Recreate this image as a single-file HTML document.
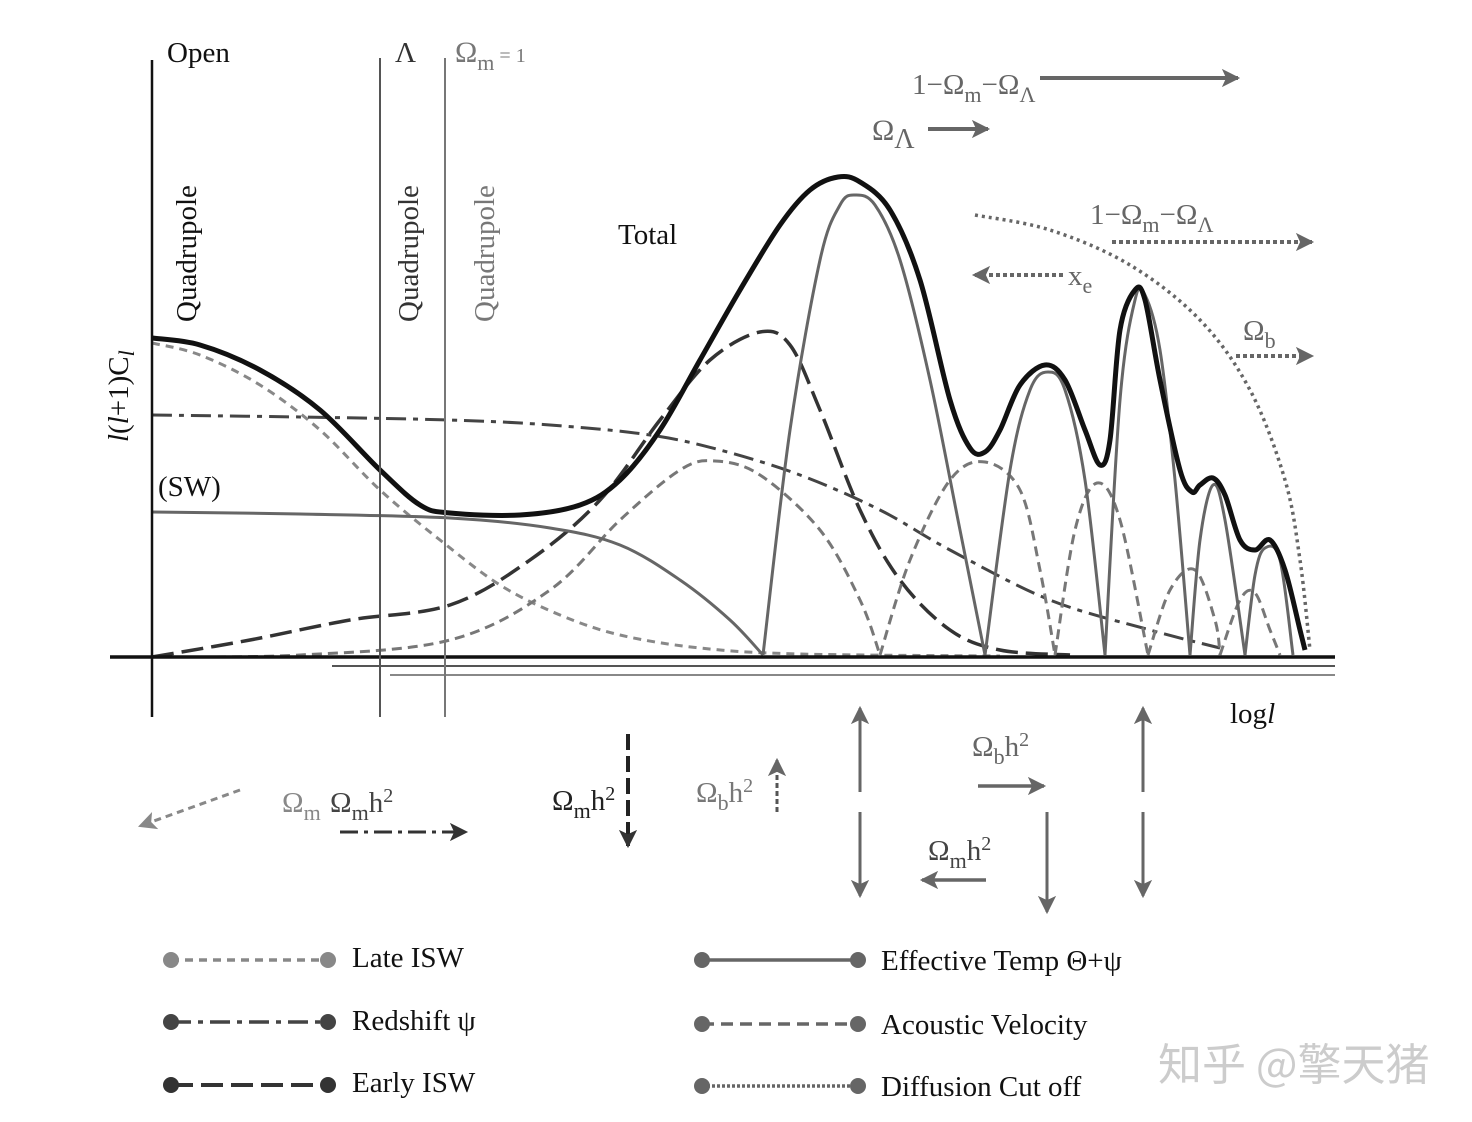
<!DOCTYPE html>
<html><head><meta charset="utf-8"><style>
body{margin:0;background:#fff}
svg{display:block;font-family:"Liberation Serif","Noto Serif CJK SC",serif}
</style></head><body>
<svg id="chart" width="1472" height="1122" viewBox="0 0 1472 1122" xmlns="http://www.w3.org/2000/svg">
<defs>
<marker id="ag" viewBox="0 0 10 10" refX="9" refY="5" markerWidth="7" markerHeight="7" markerUnits="userSpaceOnUse" orient="auto" style="overflow:visible"><path d="M-14,-8 L12,5 L-14,18 L-8,5 z" fill="#666"/></marker>
<marker id="ad" viewBox="0 0 10 10" refX="9" refY="5" markerWidth="7" markerHeight="7" markerUnits="userSpaceOnUse" orient="auto" style="overflow:visible"><path d="M-14,-8 L12,5 L-14,18 L-8,5 z" fill="#333"/></marker>
<marker id="al" viewBox="0 0 10 10" refX="9" refY="5" markerWidth="7" markerHeight="7" markerUnits="userSpaceOnUse" orient="auto" style="overflow:visible"><path d="M-14,-8 L12,5 L-14,18 L-8,5 z" fill="#888"/></marker>
</defs>
<g id="curves"></g>
<g>
<line x1="110" y1="657" x2="1335" y2="657" stroke="#111" stroke-width="3.5"/>
<line x1="332" y1="666" x2="1335" y2="666" stroke="#555" stroke-width="2"/>
<line x1="390" y1="675" x2="1335" y2="675" stroke="#888" stroke-width="2"/>
<line x1="152" y1="60" x2="152" y2="717" stroke="#111" stroke-width="2.5"/>
<line x1="380" y1="58" x2="380" y2="717" stroke="#555" stroke-width="2"/>
<line x1="445" y1="58" x2="445" y2="717" stroke="#777" stroke-width="2"/>
</g>
<g font-size="29">
<text x="167" y="62" fill="#111">Open</text>
<text x="395" y="62" fill="#333">Λ</text>
<text x="455" y="62" fill="#777" font-size="30">Ω<tspan font-size="22" dy="8">m</tspan><tspan font-size="20" dy="-8"> = 1</tspan></text>
<text transform="translate(196,322) rotate(-90)" fill="#111">Quadrupole</text>
<text transform="translate(418,322) rotate(-90)" fill="#333">Quadrupole</text>
<text transform="translate(494,322) rotate(-90)" fill="#777">Quadrupole</text>
<text transform="translate(128,442) rotate(-90)" fill="#111"><tspan font-style="italic">l</tspan>(<tspan font-style="italic">l</tspan>+1)C<tspan font-style="italic" font-size="22" dy="6">l</tspan></text>
<text x="158" y="496" fill="#111">(SW)</text>
<text x="618" y="244" fill="#111">Total</text>
<text x="1230" y="723" fill="#111">log<tspan font-style="italic">l</tspan></text>
<text x="912" y="94" fill="#666">1−Ω<tspan font-size="22" dy="8">m</tspan><tspan dy="-8">−Ω</tspan><tspan font-size="22" dy="8">Λ</tspan></text>
<text x="872" y="140" fill="#666" font-size="30">Ω<tspan font-size="28" dy="8">Λ</tspan></text>
<text x="1090" y="224" fill="#666">1−Ω<tspan font-size="22" dy="8">m</tspan><tspan dy="-8">−Ω</tspan><tspan font-size="22" dy="8">Λ</tspan></text>
<text x="1068" y="285" fill="#666">x<tspan font-size="22" dy="8">e</tspan></text>
<text x="1243" y="340" fill="#666">Ω<tspan font-size="22" dy="8">b</tspan></text>
<text x="282" y="812" fill="#888">Ω<tspan font-size="22" dy="8">m</tspan></text>
<text x="330" y="812" fill="#444">Ω<tspan font-size="22" dy="8">m</tspan><tspan dy="-8">h</tspan><tspan font-size="20" dy="-10">2</tspan></text>
<text x="552" y="810" fill="#222">Ω<tspan font-size="22" dy="8">m</tspan><tspan dy="-8">h</tspan><tspan font-size="20" dy="-10">2</tspan></text>
<text x="696" y="802" fill="#777">Ω<tspan font-size="22" dy="8">b</tspan><tspan dy="-8">h</tspan><tspan font-size="20" dy="-10">2</tspan></text>
<text x="972" y="756" fill="#666">Ω<tspan font-size="22" dy="8">b</tspan><tspan dy="-8">h</tspan><tspan font-size="20" dy="-10">2</tspan></text>
<text x="928" y="860" fill="#444">Ω<tspan font-size="22" dy="8">m</tspan><tspan dy="-8">h</tspan><tspan font-size="20" dy="-10">2</tspan></text>
</g>
<g fill="none">
<line x1="1040" y1="78" x2="1238" y2="78" stroke="#666" stroke-width="4" marker-end="url(#ag)"/>
<line x1="928" y1="129" x2="988" y2="129" stroke="#666" stroke-width="4" marker-end="url(#ag)"/>
<line x1="1112" y1="242" x2="1312" y2="242" stroke="#666" stroke-width="4" stroke-dasharray="4 3" marker-end="url(#ag)"/>
<line x1="1063" y1="275" x2="974" y2="275" stroke="#666" stroke-width="4" stroke-dasharray="4 3" marker-end="url(#ag)"/>
<line x1="1236" y1="356" x2="1312" y2="356" stroke="#666" stroke-width="4" stroke-dasharray="4 3" marker-end="url(#ag)"/>
<line x1="240" y1="790" x2="140" y2="826" stroke="#888" stroke-width="3" stroke-dasharray="7 5" marker-end="url(#al)"/>
<line x1="340" y1="832" x2="466" y2="832" stroke="#333" stroke-width="3" stroke-dasharray="18 6 4 6" marker-end="url(#ad)"/>
<line x1="628" y1="734" x2="628" y2="846" stroke="#222" stroke-width="4" stroke-dasharray="16 6" marker-end="url(#ad)"/>
<line x1="777" y1="812" x2="777" y2="760" stroke="#555" stroke-width="3" stroke-dasharray="5 3" marker-end="url(#ag)"/>
<line x1="860" y1="792" x2="860" y2="708" stroke="#666" stroke-width="3" marker-end="url(#ag)"/>
<line x1="860" y1="812" x2="860" y2="896" stroke="#666" stroke-width="3" marker-end="url(#ag)"/>
<line x1="978" y1="786" x2="1044" y2="786" stroke="#666" stroke-width="3.5" marker-end="url(#ag)"/>
<line x1="986" y1="880" x2="922" y2="880" stroke="#666" stroke-width="3.5" marker-end="url(#ag)"/>
<line x1="1047" y1="812" x2="1047" y2="912" stroke="#666" stroke-width="3" marker-end="url(#ag)"/>
<line x1="1143" y1="792" x2="1143" y2="708" stroke="#666" stroke-width="3" marker-end="url(#ag)"/>
<line x1="1143" y1="812" x2="1143" y2="896" stroke="#666" stroke-width="3" marker-end="url(#ag)"/>
</g>
<g font-size="29" fill="#111">
<g><line x1="171" y1="960" x2="328" y2="960" stroke="#888" stroke-width="3.5" stroke-dasharray="8 6"/><circle cx="171" cy="960" r="8" fill="#888"/><circle cx="328" cy="960" r="8" fill="#888"/><text x="352" y="967">Late ISW</text></g>
<g><line x1="171" y1="1022" x2="328" y2="1022" stroke="#444" stroke-width="3.5" stroke-dasharray="20 7 5 7"/><circle cx="171" cy="1022" r="8" fill="#444"/><circle cx="328" cy="1022" r="8" fill="#444"/><text x="352" y="1030">Redshift ψ</text></g>
<g><line x1="171" y1="1085" x2="328" y2="1085" stroke="#333" stroke-width="4" stroke-dasharray="22 8"/><circle cx="171" cy="1085" r="8" fill="#333"/><circle cx="328" cy="1085" r="8" fill="#333"/><text x="352" y="1092">Early ISW</text></g>
<g><line x1="702" y1="960" x2="858" y2="960" stroke="#666" stroke-width="3.5"/><circle cx="702" cy="960" r="8" fill="#666"/><circle cx="858" cy="960" r="8" fill="#666"/><text x="881" y="970">Effective Temp Θ+ψ</text></g>
<g><line x1="702" y1="1024" x2="858" y2="1024" stroke="#666" stroke-width="3.5" stroke-dasharray="12 7"/><circle cx="702" cy="1024" r="8" fill="#666"/><circle cx="858" cy="1024" r="8" fill="#666"/><text x="881" y="1034">Acoustic Velocity</text></g>
<g><line x1="702" y1="1086" x2="858" y2="1086" stroke="#666" stroke-width="3.5" stroke-dasharray="3 2"/><circle cx="702" cy="1086" r="8" fill="#666"/><circle cx="858" cy="1086" r="8" fill="#666"/><text x="881" y="1096">Diffusion Cut off</text></g>
</g>
<text x="1158" y="1080" font-size="44" fill="#ccc" font-family="'Noto Sans CJK SC',sans-serif">知乎 @擎天猪</text>
</svg>
<script>
// data: x = log l position (0..1160), y = l(l+1)Cl amplitude (0..480)
const totalX=[0,48,108,168,228,268,298,368,428,468,508,548,588,628,658,686,708,738,768,798,818,833,848,868,893,913,933,948,958,968,983,993,1008,1028,1040,1048,1061,1073,1088,1103,1118,1133,1148,1153];
const totalY=[319,312,287,247,187,152,144,142,152,177,227,297,367,432,467,480,475,447,377,257,209,205,227,272,292,277,227,192,217,327,367,357,277,187,165,172,179,162,117,107,117,87,27,7];
const tempSegX=[[0,148,298,398,468,528,578,611],[611,638,668,688,703,723,748,778,808,833],[833,858,878,896,913,933,953],[953,968,983,993,1008,1023,1038],[1038,1048,1061,1073,1093],[1093,1103,1113,1128,1141]];
const tempSegY=[[145,143,139,129,112,77,37,2],[2,227,397,452,462,452,397,277,127,2],[2,187,267,285,267,177,2],[2,257,357,362,307,177,2],[2,117,172,137,2],[2,82,109,97,2]];
const lateX=[0,48,108,168,228,288,348,408,468,548,648,848];
const lateY=[314,302,272,227,167,117,72,42,22,9,3,1];
const redX=[0,148,298,398,498,568,648,728,798,898,998,1068];
const redY=[242,240,237,232,222,207,182,147,107,57,27,9];
const earlyX=[0,98,198,298,378,448,508,558,608,638,668,708,748,798,848,918];
const earlyY=[0,17,37,52,97,157,237,297,325,312,247,147,77,27,7,2];
const acSegX=[[0,148,298,398,468,528,563,608,668,708,728],[728,758,798,833,868,888,903],[903,923,945,968,996],[996,1018,1043,1063,1068],[1068,1088,1103,1118,1128]];
const acSegY=[[0,2,17,67,137,187,196,182,127,57,2],[2,97,177,195,167,87,2],[2,127,174,137,2],[2,67,87,37,2],[2,57,64,27,2]];
const diffX=[823,898,978,1048,1098,1133,1148,1158];
const diffY=[442,427,392,337,267,177,97,7];

const xS=v=>152+v, yS=v=>657-v;
const g=document.getElementById('curves');
function smooth(xs,ys){
  const P=xs.map((x,i)=>[xS(x),yS(ys[i])]);
  let d='M'+P[0][0]+','+P[0][1];
  for(let i=0;i<P.length-1;i++){
    const p0=P[i-1]||P[i],p1=P[i],p2=P[i+1],p3=P[i+2]||P[i+1];
    const c1=[p1[0]+(p2[0]-p0[0])/6,p1[1]+(p2[1]-p0[1])/6];
    const c2=[p2[0]-(p3[0]-p1[0])/6,p2[1]-(p3[1]-p1[1])/6];
    d+=' C'+c1[0].toFixed(1)+','+c1[1].toFixed(1)+' '+c2[0].toFixed(1)+','+c2[1].toFixed(1)+' '+p2[0]+','+p2[1];
  }
  return d;
}
function poly(xs,ys,stroke,w,dash,name){
  const p=document.createElementNS('http://www.w3.org/2000/svg','path');
  p.setAttribute('d',smooth(xs,ys));
  p.setAttribute('fill','none');p.setAttribute('stroke',stroke);p.setAttribute('stroke-width',w);
  p.setAttribute('stroke-linejoin','round');
  if(dash)p.setAttribute('stroke-dasharray',dash);
  
  
  g.appendChild(p);
}
poly(lateX,lateY,'#888',3,'8 6','late-isw-curve');
poly(redX,redY,'#444',3,'20 7 5 7','redshift-curve');
poly(earlyX,earlyY,'#333',3.5,'22 8','early-isw-curve');
acSegX.forEach((xs,i)=>poly(xs,acSegY[i],'#777',3,'10 6','acoustic-velocity-curve'));
poly(diffX,diffY,'#666',3.5,'3 4','diffusion-cutoff-curve');
tempSegX.forEach((xs,i)=>poly(xs,tempSegY[i],'#666',3,null,'effective-temp-curve'));
poly(totalX,totalY,'#111',5,null,'total-curve');
</script>
</body></html>
